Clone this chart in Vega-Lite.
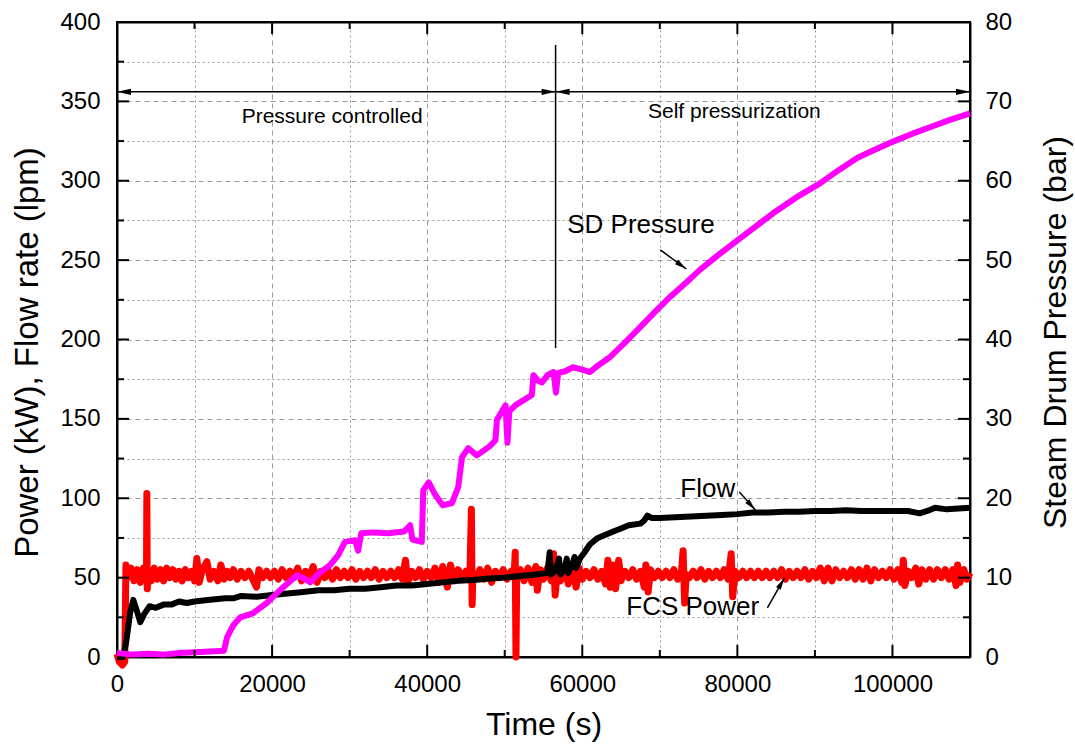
{
  "$schema": "https://vega.github.io/schema/vega-lite/v6.json",
  "width": 853,
  "height": 635,
  "autosize": {"type": "none"},
  "padding": {"left": 117, "top": 22, "right": 105, "bottom": 87},
  "background": "white",
  "config": {
    "font": "Liberation Sans",
    "view": {"stroke": "black", "strokeWidth": 2},
    "axis": {"labelFont": "Liberation Sans", "titleFont": "Liberation Sans", "labelColor": "black", "titleColor": "black", "titleFontWeight": "normal", "domainColor": "black", "domainWidth": 2, "gridColor": "#9a9a9a", "gridWidth": 1}
  },
  "datasets": {
    "xt": [
      {"t":10000,"k":"minor"},{"t":20000,"k":"major"},{"t":30000,"k":"minor"},{"t":40000,"k":"major"},{"t":50000,"k":"minor"},{"t":60000,"k":"major"},{"t":70000,"k":"minor"},{"t":80000,"k":"major"},{"t":90000,"k":"minor"},{"t":100000,"k":"major"}
    ],
    "yt": [
      {"v":25,"k":"minor"},{"v":50,"k":"major"},{"v":75,"k":"minor"},{"v":100,"k":"major"},{"v":125,"k":"minor"},{"v":150,"k":"major"},{"v":175,"k":"minor"},{"v":200,"k":"major"},{"v":225,"k":"minor"},{"v":250,"k":"major"},{"v":275,"k":"minor"},{"v":300,"k":"major"},{"v":325,"k":"minor"},{"v":350,"k":"major"},{"v":375,"k":"minor"}
    ],
    "fcs": [
      {"t":0,"v":2},{"t":300,"v":-3},{"t":700,"v":-5},{"t":1000,"v":-3},{"t":1150,"v":58},{"t":1400,"v":50},{"t":1800,"v":56},{"t":2200,"v":48},{"t":2600,"v":55},{"t":3000,"v":47},{"t":3400,"v":56},{"t":3800,"v":49},{"t":3850,"v":103},{"t":3900,"v":43},{"t":4000,"v":55},{"t":4400,"v":48},{"t":4800,"v":56},{"t":5200,"v":49},{"t":5600,"v":55},{"t":6000,"v":48},{"t":6400,"v":56},{"t":6800,"v":50},{"t":7200,"v":55},{"t":7600,"v":49},{"t":8000,"v":54},{"t":8400,"v":48},{"t":8800,"v":55},{"t":9200,"v":50},{"t":9600,"v":54},{"t":10000,"v":48},{"t":10300,"v":62},{"t":10600,"v":47},{"t":11000,"v":55},{"t":11600,"v":60},{"t":12000,"v":49},{"t":12500,"v":54},{"t":13000,"v":48},{"t":13400,"v":58},{"t":13800,"v":49},{"t":14200,"v":54},{"t":14600,"v":50},{"t":15000,"v":55},{"t":15500,"v":49},{"t":16000,"v":54},{"t":16500,"v":50},{"t":17000,"v":54},{"t":17500,"v":49},{"t":18000,"v":44},{"t":18300,"v":55},{"t":18800,"v":50},{"t":19300,"v":54},{"t":19800,"v":50},{"t":20300,"v":54},{"t":20800,"v":49},{"t":21300,"v":55},{"t":21800,"v":50},{"t":22300,"v":54},{"t":22800,"v":50},{"t":23300,"v":56},{"t":23800,"v":48},{"t":24300,"v":54},{"t":24800,"v":50},{"t":25300,"v":57},{"t":25800,"v":47},{"t":26300,"v":54},{"t":26800,"v":50},{"t":27300,"v":54},{"t":27800,"v":49},{"t":28300,"v":55},{"t":28800,"v":50},{"t":29300,"v":54},{"t":29800,"v":50},{"t":30300,"v":55},{"t":30800,"v":49},{"t":31300,"v":54},{"t":31800,"v":50},{"t":32300,"v":54},{"t":32800,"v":50},{"t":33300,"v":55},{"t":33800,"v":49},{"t":34300,"v":54},{"t":34800,"v":50},{"t":35300,"v":54},{"t":35800,"v":50},{"t":36300,"v":55},{"t":36800,"v":49},{"t":37200,"v":61},{"t":37500,"v":47},{"t":38000,"v":54},{"t":38500,"v":50},{"t":39000,"v":55},{"t":39500,"v":49},{"t":40000,"v":54},{"t":40500,"v":50},{"t":41000,"v":56},{"t":41500,"v":47},{"t":42000,"v":57},{"t":42600,"v":44},{"t":43000,"v":58},{"t":43500,"v":48},{"t":44000,"v":55},{"t":44500,"v":50},{"t":45000,"v":54},{"t":45500,"v":49},{"t":45700,"v":93},{"t":45800,"v":33},{"t":45900,"v":53},{"t":46300,"v":50},{"t":46800,"v":55},{"t":47300,"v":49},{"t":47800,"v":56},{"t":48300,"v":47},{"t":48800,"v":54},{"t":49300,"v":50},{"t":49800,"v":55},{"t":50300,"v":49},{"t":50800,"v":54},{"t":51200,"v":50},{"t":51350,"v":66},{"t":51450,"v":0},{"t":51550,"v":52},{"t":52000,"v":55},{"t":52500,"v":48},{"t":53000,"v":56},{"t":53500,"v":47},{"t":54000,"v":57},{"t":54200,"v":42},{"t":54600,"v":55},{"t":55000,"v":49},{"t":55500,"v":56},{"t":56000,"v":48},{"t":56300,"v":65},{"t":56500,"v":39},{"t":56800,"v":55},{"t":57200,"v":48},{"t":57700,"v":57},{"t":58200,"v":46},{"t":58700,"v":58},{"t":59200,"v":44},{"t":59600,"v":56},{"t":60000,"v":49},{"t":60500,"v":54},{"t":61000,"v":50},{"t":61500,"v":55},{"t":62000,"v":49},{"t":62500,"v":54},{"t":63000,"v":46},{"t":63300,"v":61},{"t":63600,"v":44},{"t":64000,"v":58},{"t":64300,"v":43},{"t":64700,"v":61},{"t":65000,"v":48},{"t":65500,"v":54},{"t":66000,"v":50},{"t":66500,"v":55},{"t":67000,"v":49},{"t":67500,"v":54},{"t":68000,"v":44},{"t":68200,"v":58},{"t":68500,"v":41},{"t":68800,"v":55},{"t":69300,"v":50},{"t":69800,"v":54},{"t":70300,"v":50},{"t":70800,"v":54},{"t":71300,"v":50},{"t":71800,"v":55},{"t":72300,"v":49},{"t":72800,"v":54},{"t":73000,"v":67},{"t":73200,"v":34},{"t":73400,"v":52},{"t":73800,"v":50},{"t":74300,"v":54},{"t":74800,"v":50},{"t":75300,"v":55},{"t":75800,"v":49},{"t":76300,"v":54},{"t":76800,"v":50},{"t":77300,"v":54},{"t":77800,"v":50},{"t":78300,"v":55},{"t":78800,"v":49},{"t":79200,"v":65},{"t":79400,"v":38},{"t":79700,"v":54},{"t":80200,"v":50},{"t":80700,"v":54},{"t":81200,"v":50},{"t":81700,"v":54},{"t":82200,"v":50},{"t":82700,"v":54},{"t":83200,"v":50},{"t":83700,"v":54},{"t":84200,"v":50},{"t":84700,"v":54},{"t":85200,"v":50},{"t":85700,"v":55},{"t":86200,"v":49},{"t":86700,"v":54},{"t":87200,"v":50},{"t":87700,"v":54},{"t":88200,"v":50},{"t":88700,"v":55},{"t":89200,"v":49},{"t":89700,"v":54},{"t":90200,"v":50},{"t":90700,"v":56},{"t":91200,"v":48},{"t":91700,"v":56},{"t":92200,"v":48},{"t":92700,"v":55},{"t":93200,"v":50},{"t":93700,"v":54},{"t":94200,"v":50},{"t":94700,"v":55},{"t":95200,"v":49},{"t":95700,"v":55},{"t":96200,"v":49},{"t":96700,"v":56},{"t":97200,"v":48},{"t":97700,"v":55},{"t":98200,"v":50},{"t":98700,"v":54},{"t":99200,"v":50},{"t":99700,"v":55},{"t":100200,"v":49},{"t":100700,"v":55},{"t":101200,"v":47},{"t":101400,"v":61},{"t":101600,"v":45},{"t":102000,"v":54},{"t":102500,"v":50},{"t":103000,"v":56},{"t":103400,"v":46},{"t":103800,"v":55},{"t":104300,"v":49},{"t":104800,"v":55},{"t":105300,"v":49},{"t":105800,"v":55},{"t":106300,"v":50},{"t":106800,"v":55},{"t":107300,"v":49},{"t":107800,"v":55},{"t":108200,"v":45},{"t":108400,"v":58},{"t":108700,"v":47},{"t":109200,"v":55},{"t":109600,"v":49},{"t":110000,"v":53}
    ],
    "flow": [
      {"t":0,"v":0},{"t":800,"v":0},{"t":1200,"v":10},{"t":1700,"v":28},{"t":2100,"v":36},{"t":2500,"v":30},{"t":3000,"v":22},{"t":3500,"v":27},{"t":4200,"v":32},{"t":5000,"v":31},{"t":6000,"v":33},{"t":7000,"v":33},{"t":8000,"v":35},{"t":9000,"v":34},{"t":10000,"v":35},{"t":12000,"v":36},{"t":14000,"v":37},{"t":15000,"v":37},{"t":16000,"v":38.5},{"t":18000,"v":38},{"t":20000,"v":39},{"t":22000,"v":40},{"t":24000,"v":41},{"t":26000,"v":42},{"t":28000,"v":42},{"t":30000,"v":43},{"t":32000,"v":43},{"t":34000,"v":44},{"t":36000,"v":45},{"t":38000,"v":45},{"t":40000,"v":46},{"t":42000,"v":47},{"t":44000,"v":48},{"t":46000,"v":48.5},{"t":48000,"v":49.5},{"t":50000,"v":50},{"t":52000,"v":51},{"t":54000,"v":52},{"t":55500,"v":53},{"t":55800,"v":66},{"t":55950,"v":52},{"t":56500,"v":54},{"t":57000,"v":62},{"t":57200,"v":52},{"t":57700,"v":55},{"t":58000,"v":62},{"t":58200,"v":53},{"t":58700,"v":58},{"t":59000,"v":63},{"t":59200,"v":56},{"t":59700,"v":62},{"t":60300,"v":66},{"t":61000,"v":71},{"t":62000,"v":75},{"t":63000,"v":77},{"t":64000,"v":79},{"t":65000,"v":81},{"t":66000,"v":83},{"t":67500,"v":84},{"t":68000,"v":86},{"t":68400,"v":89},{"t":69000,"v":87.5},{"t":70000,"v":87.5},{"t":72000,"v":88},{"t":74000,"v":88.5},{"t":76000,"v":89},{"t":78000,"v":89.5},{"t":80000,"v":90},{"t":82000,"v":91},{"t":84000,"v":91},{"t":86000,"v":91.5},{"t":88000,"v":91.5},{"t":90000,"v":92},{"t":92000,"v":92},{"t":94000,"v":92.5},{"t":96000,"v":92},{"t":98000,"v":92},{"t":100000,"v":92},{"t":102000,"v":92},{"t":103500,"v":90.5},{"t":104500,"v":92},{"t":105500,"v":94},{"t":107000,"v":93},{"t":108500,"v":93.5},{"t":110000,"v":94}
    ],
    "sd": [
      {"t":0,"v":0.5},{"t":2000,"v":0.3},{"t":4000,"v":0.4},{"t":6000,"v":0.3},{"t":8000,"v":0.5},{"t":10000,"v":0.6},{"t":12000,"v":0.7},{"t":13800,"v":0.8},{"t":14200,"v":2.5},{"t":15000,"v":4},{"t":15900,"v":5},{"t":17500,"v":5.5},{"t":19300,"v":6.8},{"t":21000,"v":8.4},{"t":23200,"v":10.3},{"t":24300,"v":9.8},{"t":24900,"v":9.4},{"t":26000,"v":10.5},{"t":27500,"v":11.6},{"t":28500,"v":12.8},{"t":29400,"v":14.5},{"t":30700,"v":14.7},{"t":31100,"v":13.4},{"t":31500,"v":15.6},{"t":33000,"v":15.7},{"t":35000,"v":15.6},{"t":37000,"v":15.8},{"t":37800,"v":16.6},{"t":38100,"v":14.8},{"t":39300,"v":14.5},{"t":39500,"v":21},{"t":40200,"v":22},{"t":41000,"v":20.5},{"t":42000,"v":19.1},{"t":43200,"v":19.4},{"t":44000,"v":21.4},{"t":44500,"v":25.2},{"t":45300,"v":26.3},{"t":46400,"v":25.4},{"t":48000,"v":26.5},{"t":48800,"v":27.3},{"t":49000,"v":29.9},{"t":50100,"v":31.7},{"t":50350,"v":27},{"t":50600,"v":31},{"t":51500,"v":31.8},{"t":52500,"v":32.4},{"t":53500,"v":33},{"t":53700,"v":35.5},{"t":54300,"v":34.8},{"t":54800,"v":34.6},{"t":55500,"v":35.5},{"t":56300,"v":35.9},{"t":56600,"v":33.3},{"t":56900,"v":35.8},{"t":57800,"v":36},{"t":58800,"v":36.5},{"t":60000,"v":36.2},{"t":61000,"v":35.9},{"t":62000,"v":36.7},{"t":63600,"v":37.8},{"t":65500,"v":39.6},{"t":67500,"v":41.6},{"t":69500,"v":43.6},{"t":71350,"v":45.4},{"t":73300,"v":47.1},{"t":75200,"v":48.8},{"t":77600,"v":50.7},{"t":80000,"v":52.5},{"t":82300,"v":54.2},{"t":84600,"v":55.9},{"t":87600,"v":57.9},{"t":90700,"v":59.7},{"t":93000,"v":61.3},{"t":95500,"v":62.9},{"t":97700,"v":63.9},{"t":100000,"v":64.9},{"t":102500,"v":65.9},{"t":105000,"v":66.8},{"t":107500,"v":67.7},{"t":110000,"v":68.5}
    ]
  },
  "resolve": {"scale": {"y": "independent"}, "axis": {"x": "independent", "y": "independent"}},
  "layer": [
    {
      "data": {"name": "fcs"},
      "mark": {"type": "line", "color": "#ff0000", "strokeWidth": 7, "strokeJoin": "round"},
      "encoding": {
        "x": {"field": "t", "type": "quantitative", "scale": {"domain": [0, 110000], "nice": false, "zero": false},
          "axis": {"orient": "bottom", "values": [0, 20000, 40000, 60000, 80000, 100000], "format": "d", "ticks": false, "labelPadding": 15, "labelFontSize": 24, "labelFlush": false, "labelOverlap": false, "grid": true, "gridDash": [5, 4], "domain": true, "title": "Time (s)", "titleFontSize": 32, "titleBaseline": "middle", "titleY": 67}},
        "y": {"field": "v", "type": "quantitative", "scale": {"domain": [0, 400], "nice": false, "zero": false},
          "axis": {"orient": "left", "values": [0, 50, 100, 150, 200, 250, 300, 350, 400], "format": "d", "ticks": false, "labelPadding": 17, "labelFontSize": 24, "labelFlush": false, "labelOverlap": false, "grid": true, "gridDash": [5, 4], "domain": true, "title": "Power (kW), Flow rate (lpm)", "titleFontSize": 33, "titleAngle": 270, "titleAlign": "center", "titleBaseline": "middle", "titleX": -90, "titleY": 330}}
      }
    },
    {
      "data": {"name": "flow"},
      "mark": {"type": "line", "color": "#000000", "strokeWidth": 6, "strokeJoin": "round"},
      "encoding": {
        "x": {"field": "t", "type": "quantitative", "scale": {"domain": [0, 110000], "nice": false, "zero": false}, "axis": null},
        "y": {"field": "v", "type": "quantitative", "scale": {"domain": [0, 400], "nice": false, "zero": false},
          "axis": {"orient": "left", "values": [25, 75, 125, 175, 225, 275, 325, 375], "ticks": false, "labels": false, "grid": true, "gridDash": [2, 3], "domain": false, "title": null}}
      }
    },
    {
      "data": {"name": "sd"},
      "mark": {"type": "line", "color": "#ff00ff", "strokeWidth": 6, "strokeJoin": "round"},
      "encoding": {
        "x": {"field": "t", "type": "quantitative", "scale": {"domain": [0, 110000], "nice": false, "zero": false},
          "axis": {"orient": "top", "values": [10000, 30000, 50000, 70000, 90000], "ticks": false, "labels": false, "grid": true, "gridDash": [2, 3], "domain": true, "title": null}},
        "y": {"field": "v", "type": "quantitative", "scale": {"domain": [0, 80], "nice": false, "zero": false},
          "axis": {"orient": "right", "values": [0, 10, 20, 30, 40, 50, 60, 70, 80], "format": "d", "ticks": false, "labelPadding": 15, "labelFontSize": 24, "labelFlush": false, "labelOverlap": false, "grid": false, "domain": true, "title": "Steam Drum Pressure (bar)", "titleFontSize": 32, "titleAngle": 270, "titleAlign": "center", "titleBaseline": "middle", "titleX": 85, "titleY": 310}}
      }
    },
    {
      "data": {"name": "xt"},
      "transform": [{"filter": "datum.k == 'major'"}],
      "mark": {"type": "rule", "color": "black", "strokeWidth": 2},
      "encoding": {
        "x": {"field": "t", "type": "quantitative", "scale": {"domain": [0, 110000], "nice": false, "zero": false}, "axis": null},
        "y": {"datum": 0, "type": "quantitative", "scale": {"domain": [0, 400], "nice": false, "zero": false}, "axis": null},
        "y2": {"datum": 7.6}
      }
    },
    {
      "data": {"name": "xt"},
      "transform": [{"filter": "datum.k == 'minor'"}],
      "mark": {"type": "rule", "color": "black", "strokeWidth": 2},
      "encoding": {
        "x": {"field": "t", "type": "quantitative", "scale": {"domain": [0, 110000], "nice": false, "zero": false}, "axis": null},
        "y": {"datum": 0, "type": "quantitative", "scale": {"domain": [0, 400], "nice": false, "zero": false}, "axis": null},
        "y2": {"datum": 4.4}
      }
    },
    {
      "data": {"name": "xt"},
      "transform": [{"filter": "datum.k == 'major'"}],
      "mark": {"type": "rule", "color": "black", "strokeWidth": 2},
      "encoding": {
        "x": {"field": "t", "type": "quantitative", "scale": {"domain": [0, 110000], "nice": false, "zero": false}, "axis": null},
        "y": {"datum": 400, "type": "quantitative", "scale": {"domain": [0, 400], "nice": false, "zero": false}, "axis": null},
        "y2": {"datum": 392.4}
      }
    },
    {
      "data": {"name": "xt"},
      "transform": [{"filter": "datum.k == 'minor'"}],
      "mark": {"type": "rule", "color": "black", "strokeWidth": 2},
      "encoding": {
        "x": {"field": "t", "type": "quantitative", "scale": {"domain": [0, 110000], "nice": false, "zero": false}, "axis": null},
        "y": {"datum": 400, "type": "quantitative", "scale": {"domain": [0, 400], "nice": false, "zero": false}, "axis": null},
        "y2": {"datum": 395.6}
      }
    },
    {
      "data": {"name": "yt"},
      "transform": [{"filter": "datum.k == 'major'"}],
      "mark": {"type": "rule", "color": "black", "strokeWidth": 2},
      "encoding": {
        "x": {"datum": 0, "type": "quantitative", "scale": {"domain": [0, 110000], "nice": false, "zero": false}, "axis": null},
        "x2": {"datum": 1550},
        "y": {"field": "v", "type": "quantitative", "scale": {"domain": [0, 400], "nice": false, "zero": false}, "axis": null}
      }
    },
    {
      "data": {"name": "yt"},
      "transform": [{"filter": "datum.k == 'minor'"}],
      "mark": {"type": "rule", "color": "black", "strokeWidth": 2},
      "encoding": {
        "x": {"datum": 0, "type": "quantitative", "scale": {"domain": [0, 110000], "nice": false, "zero": false}, "axis": null},
        "x2": {"datum": 900},
        "y": {"field": "v", "type": "quantitative", "scale": {"domain": [0, 400], "nice": false, "zero": false}, "axis": null}
      }
    },
    {
      "data": {"name": "yt"},
      "transform": [{"filter": "datum.k == 'major'"}],
      "mark": {"type": "rule", "color": "black", "strokeWidth": 2},
      "encoding": {
        "x": {"datum": 110000, "type": "quantitative", "scale": {"domain": [0, 110000], "nice": false, "zero": false}, "axis": null},
        "x2": {"datum": 108450},
        "y": {"field": "v", "type": "quantitative", "scale": {"domain": [0, 400], "nice": false, "zero": false}, "axis": null}
      }
    },
    {
      "data": {"name": "yt"},
      "transform": [{"filter": "datum.k == 'minor'"}],
      "mark": {"type": "rule", "color": "black", "strokeWidth": 2},
      "encoding": {
        "x": {"datum": 110000, "type": "quantitative", "scale": {"domain": [0, 110000], "nice": false, "zero": false}, "axis": null},
        "x2": {"datum": 109100},
        "y": {"field": "v", "type": "quantitative", "scale": {"domain": [0, 400], "nice": false, "zero": false}, "axis": null}
      }
    },
    {
      "data": {"values": [{"t": 70065, "t2": 73420, "y": 256.4, "y2": 244.4}, {"t": 80258, "t2": 82323, "y": 103.9, "y2": 92.6}, {"t": 83871, "t2": 86065, "y": 30.9, "y2": 49.8}]},
      "mark": {"type": "rule", "color": "black", "strokeWidth": 1.5},
      "encoding": {
        "x": {"field": "t", "type": "quantitative", "scale": {"domain": [0, 110000], "nice": false, "zero": false}, "axis": null},
        "x2": {"field": "t2"},
        "y": {"field": "y", "type": "quantitative", "scale": {"domain": [0, 400], "nice": false, "zero": false}, "axis": null},
        "y2": {"field": "y2"}
      }
    },
    {
      "data": {"values": [{"t": 56560, "y": 194.6, "y2": 385.5}]},
      "mark": {"type": "rule", "color": "black", "strokeWidth": 1.5},
      "encoding": {
        "x": {"field": "t", "type": "quantitative", "scale": {"domain": [0, 110000], "nice": false, "zero": false}, "axis": null},
        "y": {"field": "y", "type": "quantitative", "scale": {"domain": [0, 400], "nice": false, "zero": false}, "axis": null},
        "y2": {"field": "y2"}
      }
    },
    {
      "data": {"values": [{"t": 0, "t2": 110000, "y": 356}]},
      "mark": {"type": "rule", "color": "black", "strokeWidth": 1.5},
      "encoding": {
        "x": {"field": "t", "type": "quantitative", "scale": {"domain": [0, 110000], "nice": false, "zero": false}, "axis": null},
        "x2": {"field": "t2"},
        "y": {"field": "y", "type": "quantitative", "scale": {"domain": [0, 400], "nice": false, "zero": false}, "axis": null}
      }
    },
    {
      "data": {"values": [{"t": 56560, "y": 356}, {"t": 110000, "y": 356}]},
      "mark": {"type": "point", "shape": "M0,0L-2,-0.45L-2,0.45Z", "size": 196, "filled": true, "color": "black", "opacity": 1, "angle": 0},
      "encoding": {
        "x": {"field": "t", "type": "quantitative", "scale": {"domain": [0, 110000], "nice": false, "zero": false}, "axis": null},
        "y": {"field": "y", "type": "quantitative", "scale": {"domain": [0, 400], "nice": false, "zero": false}, "axis": null}
      }
    },
    {
      "data": {"values": [{"t": 0, "y": 356}, {"t": 56560, "y": 356}]},
      "mark": {"type": "point", "shape": "M0,0L-2,-0.45L-2,0.45Z", "size": 196, "filled": true, "color": "black", "opacity": 1, "angle": 180},
      "encoding": {
        "x": {"field": "t", "type": "quantitative", "scale": {"domain": [0, 110000], "nice": false, "zero": false}, "axis": null},
        "y": {"field": "y", "type": "quantitative", "scale": {"domain": [0, 400], "nice": false, "zero": false}, "axis": null}
      }
    },
    {
      "data": {"values": [{"t": 73420, "y": 244.4}]},
      "mark": {"type": "point", "shape": "M0,0L-2,-0.45L-2,0.45Z", "size": 144, "filled": true, "color": "black", "opacity": 1, "angle": 36},
      "encoding": {
        "x": {"field": "t", "type": "quantitative", "scale": {"domain": [0, 110000], "nice": false, "zero": false}, "axis": null},
        "y": {"field": "y", "type": "quantitative", "scale": {"domain": [0, 400], "nice": false, "zero": false}, "axis": null}
      }
    },
    {
      "data": {"values": [{"t": 82323, "y": 92.6}]},
      "mark": {"type": "point", "shape": "M0,0L-2,-0.45L-2,0.45Z", "size": 144, "filled": true, "color": "black", "opacity": 1, "angle": 48},
      "encoding": {
        "x": {"field": "t", "type": "quantitative", "scale": {"domain": [0, 110000], "nice": false, "zero": false}, "axis": null},
        "y": {"field": "y", "type": "quantitative", "scale": {"domain": [0, 400], "nice": false, "zero": false}, "axis": null}
      }
    },
    {
      "data": {"values": [{"t": 86065, "y": 49.8}]},
      "mark": {"type": "point", "shape": "M0,0L-2,-0.45L-2,0.45Z", "size": 144, "filled": true, "color": "black", "opacity": 1, "angle": 300},
      "encoding": {
        "x": {"field": "t", "type": "quantitative", "scale": {"domain": [0, 110000], "nice": false, "zero": false}, "axis": null},
        "y": {"field": "y", "type": "quantitative", "scale": {"domain": [0, 400], "nice": false, "zero": false}, "axis": null}
      }
    },
    {
      "data": {"values": [{"t": 27742, "y": 336.4, "label": "Pressure controlled"}, {"t": 79613, "y": 339.5, "label": "Self pressurization"}]},
      "mark": {"type": "text", "align": "center", "baseline": "alphabetic", "fontSize": 21, "color": "black"},
      "encoding": {
        "x": {"field": "t", "type": "quantitative", "scale": {"domain": [0, 110000], "nice": false, "zero": false}, "axis": null},
        "y": {"field": "y", "type": "quantitative", "scale": {"domain": [0, 400], "nice": false, "zero": false}, "axis": null},
        "text": {"field": "label"}
      }
    },
    {
      "data": {"values": [{"t": 58065, "y": 267.1, "label": "SD Pressure"}, {"t": 72645, "y": 100.8, "label": "Flow"}, {"t": 65677, "y": 26.5, "label": "FCS Power"}]},
      "mark": {"type": "text", "align": "left", "baseline": "alphabetic", "fontSize": 26, "color": "black"},
      "encoding": {
        "x": {"field": "t", "type": "quantitative", "scale": {"domain": [0, 110000], "nice": false, "zero": false}, "axis": null},
        "y": {"field": "y", "type": "quantitative", "scale": {"domain": [0, 400], "nice": false, "zero": false}, "axis": null},
        "text": {"field": "label"}
      }
    }
  ]
}
